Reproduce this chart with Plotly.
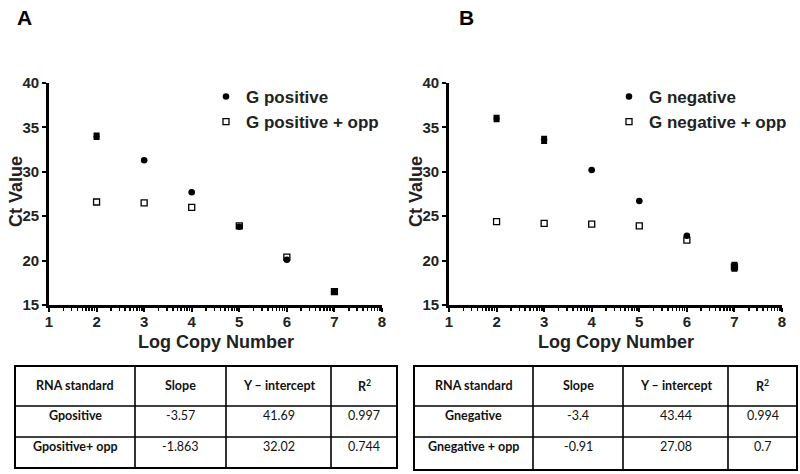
import numpy as np
import plotly.graph_objects as go

# ---------------- data ----------------
log_copy = [2, 3, 4, 5, 6, 7]

g_pos = [34.0, 31.3, 27.7, 23.8, 20.1, 16.5]
g_pos_err = [0.3, 0.0, 0.0, 0.0, 0.0, 0.0]
g_pos_opp = [26.6, 26.5, 26.0, 23.9, 20.4, 16.5]
g_pos_opp_err = [0.0, 0.0, 0.0, 0.0, 0.0, 0.0]

g_neg = [36.0, 33.6, 30.2, 26.7, 22.8, 19.3]
g_neg_err = [0.3, 0.35, 0.0, 0.0, 0.0, 0.45]
g_neg_opp = [24.4, 24.2, 24.1, 23.9, 22.3, 19.3]
g_neg_opp_err = [0.0, 0.0, 0.0, 0.0, 0.0, 0.0]

x_ticks = [1, 2, 3, 4, 5, 6, 7, 8]
y_ticks = [15, 20, 25, 30, 35, 40]

table_header = ["RNA standard", "Slope", "Y \u2013 intercept", "R<sup>2</sup>"]
tableA_std = ["Gpositive", "Gpositive+ opp"]
tableA_slope = ["-3.57", "-1.863"]
tableA_int = ["41.69", "32.02"]
tableA_r2 = ["0.997", "0.744"]
tableB_std = ["Gnegative", "Gnegative + opp"]
tableB_slope = ["-3.4", "-0.91"]
tableB_int = ["43.44", "27.08"]
tableB_r2 = ["0.994", "0.7"]

# ---------------- figure ----------------
W, H = 800, 474
fig = go.Figure()

FONT = "Arial, Liberation Sans, sans-serif"
TFONT = "Lato, Carlito, sans-serif"
TXT = "#222222"


def px(x):
    return x / W


def py(y):
    return 1 - y / H


def err(vals):
    return dict(type="data", array=vals, visible=True, color="black",
                thickness=2, width=3)


def add_pair(xa, ya, yfull, yerr, yopp, yopp_err, name1, name2, legend):
    fig.add_trace(go.Scatter(
        x=log_copy, y=yopp, mode="markers", name=name2,
        xaxis=xa, yaxis=ya, legend=legend, error_y=err(yopp_err),
        legendrank=2,
        marker=dict(symbol="square", size=6, color="white",
                    line=dict(width=1.3, color="black"))))
    fig.add_trace(go.Scatter(
        x=log_copy, y=yfull, mode="markers", name=name1,
        xaxis=xa, yaxis=ya, legend=legend, error_y=err(yerr),
        legendrank=1,
        marker=dict(symbol="circle", size=6.5, color="black",
                    line=dict(width=0))))


add_pair("x", "y", g_pos, g_pos_err, g_pos_opp, g_pos_opp_err,
         "G positive", "G positive + opp", "legend")
add_pair("x2", "y2", g_neg, g_neg_err, g_neg_opp, g_neg_opp_err,
         "G negative", "G negative + opp", "legend2")

# minor log-style ticks between integer positions
minor_vals = [float(i + np.log10(k)) for i in range(1, 8) for k in range(2, 10)]


def xaxis_cfg(domain, anchor):
    return dict(
        domain=domain, anchor=anchor, range=[1, 8], automargin=False,
        tickmode="array", tickvals=x_ticks, ticktext=[str(v) for v in x_ticks],
        ticks="outside", ticklen=4, tickwidth=2, tickcolor="black",
        ticklabelstandoff=-3,
        showline=True, linewidth=2.5, linecolor="black", mirror=False,
        showgrid=False, zeroline=False,
        minor=dict(tickmode="array", tickvals=minor_vals, ticks="outside",
                   ticklen=3, tickwidth=1.5, tickcolor="black", showgrid=False),
        tickfont=dict(family=FONT, size=15, color=TXT, weight="bold"),
    )


def yaxis_cfg(domain, anchor):
    return dict(
        domain=domain, anchor=anchor, range=[15, 40], automargin=False,
        tickmode="array", tickvals=y_ticks,
        ticks="outside", ticklen=4, tickwidth=2, tickcolor="black",
        showline=True, linewidth=2.8, linecolor="black",
        showgrid=False, zeroline=False,
        tickfont=dict(family=FONT, size=15, color=TXT, weight="bold"),
    )


ydom = [py(305), py(83)]
legend_common = dict(
    bgcolor="rgba(0,0,0,0)", borderwidth=0, xanchor="left", yanchor="top",
    font=dict(family=FONT, size=17, color=TXT, weight="bold"),
    itemclick=False, itemdoubleclick=False, tracegroupgap=0,
)

fig.update_layout(
    width=W, height=H,
    margin=dict(l=0, r=0, t=0, b=0, autoexpand=False),
    paper_bgcolor="white", plot_bgcolor="white",
    xaxis=xaxis_cfg([px(49), px(382)], "y"),
    yaxis=yaxis_cfg(ydom, "x"),
    xaxis2=xaxis_cfg([px(449), px(782)], "y2"),
    yaxis2=yaxis_cfg(ydom, "x2"),
    legend=dict(x=px(206), y=py(79), **legend_common),
    legend2=dict(x=px(609), y=py(79), **legend_common),
    showlegend=True,
)

# panel letters
for letter, xpx in (("A", 15), ("B", 457)):
    fig.add_annotation(
        text=letter, xref="paper", yref="paper", x=px(xpx), y=py(18),
        xanchor="left", yanchor="middle", showarrow=False,
        font=dict(family=FONT, size=21, color="black", weight="bold"))

# axis titles
for xc in (16, 416):
    fig.add_annotation(
        text="Ct Value", xref="paper", yref="paper", x=px(xc), y=py(192),
        xanchor="center", yanchor="middle", showarrow=False, textangle=-90,
        font=dict(family=FONT, size=18, color=TXT, weight="bold"))
for xc in (216, 616):
    fig.add_annotation(
        text="Log Copy Number", xref="paper", yref="paper", x=px(xc), y=py(342),
        xanchor="center", yanchor="middle", showarrow=False,
        font=dict(family=FONT, size=18, color=TXT, weight="bold"))


# tables drawn with shapes + annotations
def add_table(x_edges, y_edges, std, slope, inter, r2):
    x0, x1 = x_edges[0], x_edges[-1]
    y0, y1 = y_edges[0], y_edges[-1]
    fig.add_shape(type="rect", xref="paper", yref="paper",
                  x0=px(x0), x1=px(x1), y0=py(y0), y1=py(y1),
                  line=dict(color="black", width=2), fillcolor="white",
                  layer="below")
    for xv in x_edges[1:-1]:
        fig.add_shape(type="line", xref="paper", yref="paper",
                      x0=px(xv), x1=px(xv), y0=py(y0), y1=py(y1),
                      line=dict(color="black", width=1.6))
    for yv in y_edges[1:-1]:
        fig.add_shape(type="line", xref="paper", yref="paper",
                      x0=px(x0), x1=px(x1), y0=py(yv), y1=py(yv),
                      line=dict(color="black", width=1.6))
    centers = [(x_edges[i] + x_edges[i + 1]) / 2 for i in range(4)]
    header_y = (y_edges[0] + y_edges[1]) / 2 - 1
    for c, t in zip(centers, table_header):
        fig.add_annotation(
            text="<b>%s</b>" % t, xref="paper", yref="paper", x=px(c),
            y=py(header_y), xanchor="center", yanchor="middle",
            showarrow=False, font=dict(family=TFONT, size=12.5, color="#111111"))
    rows = list(zip(["<b>%s</b>" % s for s in std], slope, inter, r2))
    for r, row in enumerate(rows):
        ytxt = y_edges[r + 1] + 9.5
        for c, t in zip(centers, row):
            fig.add_annotation(
                text=t, xref="paper", yref="paper", x=px(c), y=py(ytxt),
                xanchor="center", yanchor="middle", showarrow=False,
                font=dict(family=TFONT, size=12.5, color="#111111"))


add_table([15, 135, 226, 331, 397], [366, 406, 437, 468],
          tableA_std, tableA_slope, tableA_int, tableA_r2)
add_table([414, 533, 623, 728, 797], [366, 406, 437, 470],
          tableB_std, tableB_slope, tableB_int, tableB_r2)

fig.write_html(
    "out.html",
    config={"displayModeBar": False, "staticPlot": True},
    post_script="document.body.style.margin='0';"
                "document.body.style.overflow='hidden';",
)
